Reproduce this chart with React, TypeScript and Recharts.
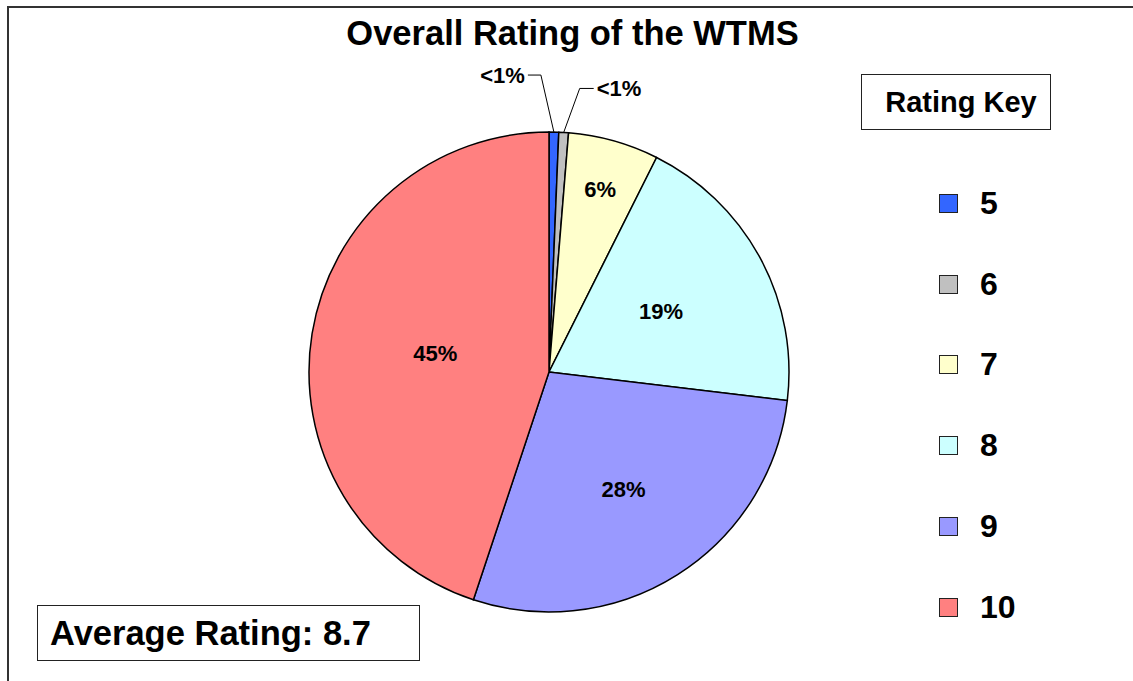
import { PieChart, Pie, Cell, Legend } from "recharts";

const ratings = ["5", "6", "7", "8", "9", "10"];
const shares = [0.65, 0.65, 6.1, 19.5, 28.2, 44.9];
const shareLabels = ["<1%", "<1%", "6%", "19%", "28%", "45%"];
const colors = ["#3366FF", "#C0C0C0", "#FFFFCC", "#CCFFFF", "#9999FF", "#FF8080"];
const averageRating = "8.7";

const data = ratings.map((r, i) => ({ name: r, value: shares[i], label: shareLabels[i] }));

const FONT = "'Liberation Sans', Arial, sans-serif";
const RAD = Math.PI / 180;

// how far out each inside label sits, as a fraction of the radius
const labelR = [1, 1, 0.79, 0.53, 0.58, 0.48];

const renderLabel = (props: any) => {
  const { cx, cy, midAngle, outerRadius, index } = props;
  const text = shareLabels[index];
  const cos = Math.cos(-midAngle * RAD);
  const sin = Math.sin(-midAngle * RAD);
  if (index < 2) {
    const sx = cx + outerRadius * cos;
    const sy = cy + outerRadius * sin;
    const left = index === 0;
    const ex = left ? sx - 13 : sx + 16;
    const ey = left ? sy - 57 : sy - 44;
    const hx = left ? ex - 13 : ex + 14;
    return (
      <g>
        <polyline points={`${sx},${sy} ${ex},${ey} ${hx},${ey}`} fill="none" stroke="#000" strokeWidth={1} />
        <text x={left ? hx - 3 : hx + 3} y={ey} textAnchor={left ? "end" : "start"} dominantBaseline="central"
          fontFamily={FONT} fontWeight="bold" fontSize={22} fill="#000">{text}</text>
      </g>
    );
  }
  const r = outerRadius * labelR[index];
  return (
    <text x={cx + r * cos} y={cy + r * sin} textAnchor="middle" dominantBaseline="central"
      fontFamily={FONT} fontWeight="bold" fontSize={22} fill="#000">{text}</text>
  );
};

const renderLegend = (props: any) => {
  const items = [...(props.payload || [])].sort(
    (a: any, b: any) => ratings.indexOf(String(a.value)) - ratings.indexOf(String(b.value))
  );
  return (
    <div style={{ fontFamily: FONT }}>
      {items.map((entry: any, i: number) => (
        <div key={i} style={{ height: 80.8, display: "flex", alignItems: "center" }}>
          <span style={{ width: 17, height: 17, background: entry.color, border: "1.5px solid #222", display: "inline-block" }} />
          <span style={{ marginLeft: 22, fontSize: 32, fontWeight: "bold", color: "#000" }}>{entry.value}</span>
        </div>
      ))}
    </div>
  );
};

export default function App() {
  return (
    <div style={{ position: "absolute", left: 0, top: 0, width: 1133, height: 681, background: "#fff", overflow: "hidden" }}>
      <div style={{ position: "absolute", left: 7, top: 6, width: 1140, height: 690, borderLeft: "2px solid #333", borderTop: "2px solid #333" }} />
      <div style={{ position: "absolute", left: 0, top: 14, width: 1145, textAlign: "center", fontFamily: FONT, fontWeight: "bold", fontSize: 34.5, color: "#000" }}>
        Overall Rating of the WTMS
      </div>
      <div style={{ position: "absolute", left: 861, top: 74, width: 190, height: 56, border: "1.5px solid #222", fontFamily: FONT, fontWeight: "bold", fontSize: 29, display: "flex", alignItems: "center", justifyContent: "center", paddingLeft: 10, boxSizing: "border-box" }}>
        Rating Key
      </div>
      <div style={{ position: "absolute", left: 37, top: 605, width: 383, height: 56, border: "1.5px solid #222", fontFamily: FONT, fontWeight: "bold", fontSize: 34.5, display: "flex", alignItems: "center", paddingLeft: 12, boxSizing: "border-box" }}>
        Average Rating: {averageRating}
      </div>
      <div style={{ position: "absolute", left: 0, top: 0 }}>
        <PieChart width={1133} height={681} margin={{ top: 0, right: 0, bottom: 0, left: 0 }}>
          <Pie
            data={data}
            dataKey="value"
            nameKey="name"
            cx={549}
            cy={372}
            outerRadius={240}
            startAngle={90}
            endAngle={-270}
            stroke="#000"
            strokeWidth={1.5}
            label={renderLabel}
            labelLine={false}
            isAnimationActive={false}
          >
            {data.map((d, i) => (
              <Cell key={d.name} fill={colors[i]} />
            ))}
          </Pie>
          <Legend
            layout="vertical"
            verticalAlign="top"
            align="right"
            content={renderLegend}
            wrapperStyle={{ left: 939, top: 163, width: 120 }}
          />
        </PieChart>
      </div>
    </div>
  );
}
